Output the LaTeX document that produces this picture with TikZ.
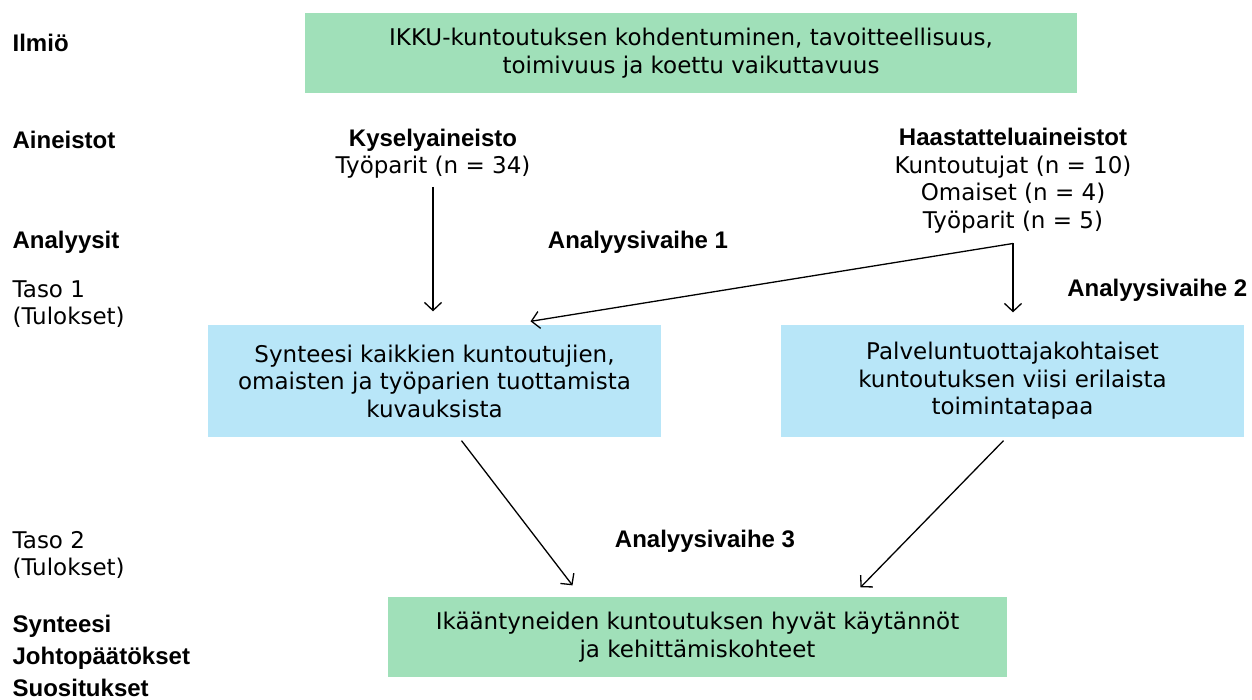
\documentclass[tikz,border=0pt]{standalone}
\usepackage{fontspec}
\setmainfont{DejaVu Sans}
\newfontfamily\headfont{Liberation Sans}
\usetikzlibrary{calc,arrows.meta}

\definecolor{ilmiogreen}{RGB}{160,224,185}
\definecolor{tulosblue}{RGB}{184,230,248}

\newcommand{\headtext}{\headfont\fontsize{24}{27.5}\selectfont\bfseries}

\begin{document}
\begin{tikzpicture}[x=1pt,y=-1pt,>={Straight Barb[length=8pt,width=17pt]},
	every path/.style={line width=1.3pt},
	txt/.style={font=\fontsize{23}{27.5}\selectfont,inner sep=0pt,align=center},
	lbl/.style={txt,anchor=west,align=left},
	head/.style={txt,font=\headtext},
	greenbox/.style={txt,fill=ilmiogreen},
	bluebox/.style={txt,fill=tulosblue,minimum height=112pt}]

	\useasboundingbox (0,0) rectangle (1252,700);

	% labels on the left side
	\node[lbl,head,anchor=west] (ilmio) at (12,43) {Ilmiö};
	\node[lbl,head,anchor=west] (aineistot) at (12,140) {Aineistot};
	\node[lbl,head,anchor=west] (analyysit) at (12,242) {Analyysit};
	\node[lbl] (taso1) at (12,304) {Taso 1\\(Tulokset)};
	\node[lbl] (taso2) at (12,555) {Taso 2\\(Tulokset)};
	\node[lbl,font=\headfont\fontsize{24}{32}\selectfont\bfseries] (synteesi) at (12,656) {Synteesi\\Johtopäätökset\\Suositukset};

	% the phenomenon on the top
	\node[greenbox,minimum width=772pt,minimum height=80pt] (ilmiobox) at (691,53)
		{IKKU-kuntoutuksen kohdentuminen, tavoitteellisuus,\\toimivuus ja koettu vaikuttavuus};

	% the two data sets
	\node[txt] (kysely) at (433,153.5) {{\headtext Kyselyaineisto}\\Työparit (n = 34)};
	\node[txt] (haastattelu) at (1013,180.5)
		{{\headtext Haastatteluaineistot}\\Kuntoutujat (n = 10)\\Omaiset (n = 4)\\Työparit (n = 5)};

	% phases of the analysis
	\node[head] (vaihe1) at (638,242) {Analyysivaihe 1};
	\node[head,anchor=east] (vaihe2) at (1248,290) {Analyysivaihe 2};
	\node[head] (vaihe3) at (705,541) {Analyysivaihe 3};

	% results of level 1
	\node[bluebox,minimum width=453pt] (kaikki) at (434.5,381)
		{Synteesi kaikkien kuntoutujien,\\omaisten ja työparien tuottamista\\kuvauksista};
	\node[bluebox,minimum width=463pt] (palvelu) at (1012.5,381)
		{Palveluntuottajakohtaiset\\kuntoutuksen viisi erilaista\\toimintatapaa};

	% result of level 2
	\node[greenbox,minimum width=619pt,minimum height=80pt] (kaytannot) at (697.5,637)
		{Ikääntyneiden kuntoutuksen hyvät käytännöt\\ja kehittämiskohteet};

	% arrows of the first phase
	\coordinate (K0) at ($(kysely.south)+(0,8)$);
	\coordinate (K1) at ($(kaikki.north)+(0,-13)$);
	\coordinate (hk) at ($(haastattelu.south)+(0,10)$);
	\coordinate (H1) at ($(kaikki.north)+(96,-3)$);
	\coordinate (H2) at ($(palvelu.north)+(0,-12)$);
	\draw[->] (K0) -- (K0 |- K1);
	\draw[->] (hk) -- (H1);
	\draw[->] (hk) -- (hk |- H2);

	% arrows of the third phase
	\coordinate (L1) at ($(kaikki.south)+(27,3)$);
	\coordinate (L2) at ($(kaytannot.north)+(-125,-11)$);
	\coordinate (R1) at ($(palvelu.south)+(-9,3)$);
	\coordinate (R2) at ($(kaytannot.north)+(163,-9)$);
	\draw[->] (L1) -- (L2);
	\draw[->] (R1) -- (R2);

\end{tikzpicture}
\end{document}
